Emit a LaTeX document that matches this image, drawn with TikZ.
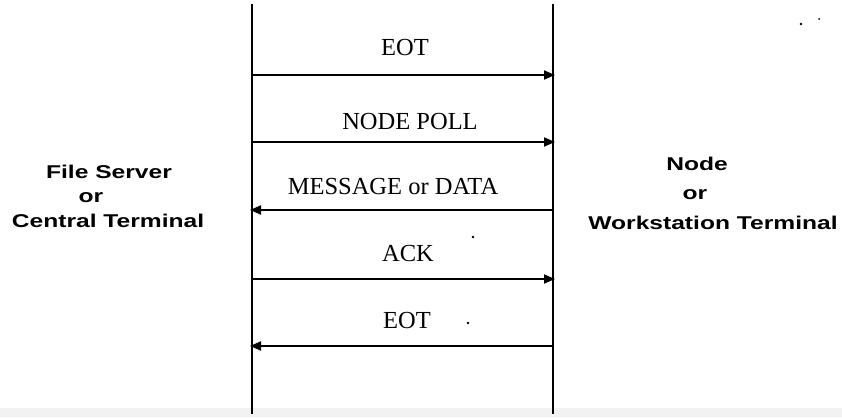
\documentclass[tikz,border=0pt]{standalone}
\usepackage{fontspec}
\setmainfont{Liberation Serif}
\newfontfamily\labfont[FakeStretch=1.33]{Liberation Sans}
\usetikzlibrary{arrows.meta}
\tikzset{
  lifeline/.style={line width=1.7pt,black},
  msg/.style={line width=1.9pt,-{Triangle[length=11pt,width=9pt]}},
  msglabel/.style={anchor=base,inner sep=0pt,font=\fontsize{24.5}{26}\selectfont},
  sidelabel/.style={anchor=base,inner sep=0pt,font=\labfont\bfseries\fontsize{18.5}{20}\selectfont},
  speck/.style={fill=black,inner sep=0pt,minimum size=2.8pt,circle}
}
\begin{document}
\begin{tikzpicture}[x=1pt,y=-1pt]
\useasboundingbox (0,0) rectangle (842,417);
\fill[black!5] (0,408) rectangle (842,417);
% lifelines
\coordinate (Ltop) at (252,4);
\coordinate (Lbot) at (252,414);
\coordinate (Rtop) at (553,4);
\coordinate (Rbot) at (553,414);
\draw[lifeline] (Ltop) -- (Lbot);
\draw[lifeline] (Rtop) -- (Rbot);
% message endpoints
\coordinate (L1) at (252,75);  \coordinate (R1) at (555,75);
\coordinate (L2) at (252,142); \coordinate (R2) at (555,142);
\coordinate (L3) at (250,210); \coordinate (R3) at (553,210);
\coordinate (L4) at (252,279); \coordinate (R4) at (555,279);
\coordinate (L5) at (250,346); \coordinate (R5) at (553,346);
\draw[msg] (L1) -- (R1);
\draw[msg] (L2) -- (R2);
\draw[msg] (R3) -- (L3);
\draw[msg] (L4) -- (R4);
\draw[msg] (R5) -- (L5);
% message labels
\node[msglabel] (t1) at (405,56) {EOT};
\node[msglabel] (t2) at (410,129) {NODE POLL};
\node[msglabel] (t3) at (393,194) {MESSAGE or DATA};
\node[msglabel] (t4) at (408,261) {ACK};
\node[msglabel] (t5) at (407,328) {EOT};
% side labels
\node[sidelabel] (fs) at (109,178) {File Server};
\node[sidelabel] (or1) at (91,202) {or};
\node[sidelabel] (ct) at (108,227) {Central Terminal};
\node[sidelabel] (nd) at (697,170) {Node};
\node[sidelabel] (or2) at (695,199) {or};
\node[sidelabel] (wt) at (713,229) {Workstation Terminal};
% scan specks
\node[speck] (s1) at (473,237) {};
\node[speck] (s2) at (468,323) {};
\node[speck] (s3) at (801,24) {};
\node[speck,minimum size=2pt] (s4) at (819,19) {};
\end{tikzpicture}
\end{document}
